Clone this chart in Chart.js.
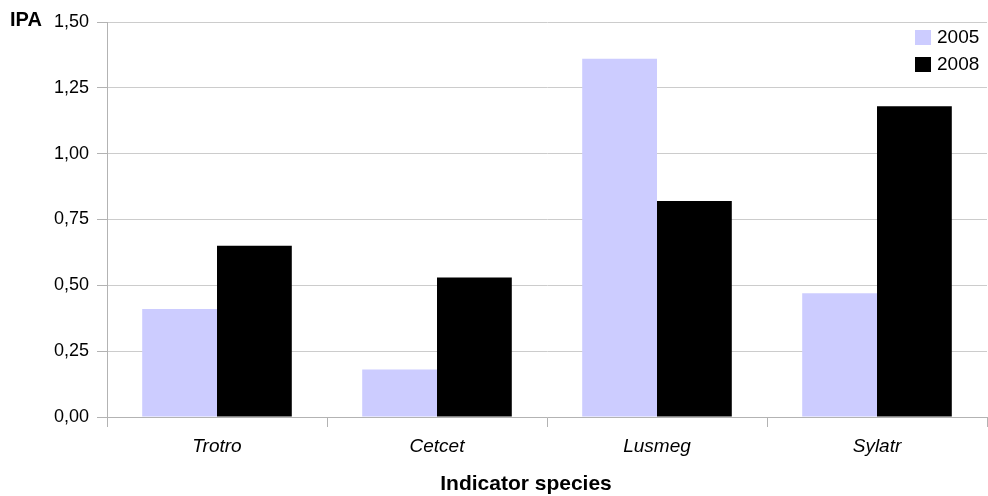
<!DOCTYPE html>
<html>
<head>
<meta charset="utf-8">
<script src="https://cdn.jsdelivr.net/npm/chart.js@4/dist/chart.umd.min.js"></script>
<style>
  html, body { margin: 0; padding: 0; background: #fff; }
  #wrap { width: 988px; height: 496px; position: relative; }
</style>
</head>
<body>
<div id="wrap"><canvas id="ipaChart"></canvas></div>
<script>
// Chart data
var species = ['Trotro', 'Cetcet', 'Lusmeg', 'Sylatr'];
var years = ['2005', '2008'];
var ipa2005 = [0.41, 0.18, 1.36, 0.47];
var ipa2008 = [0.65, 0.53, 0.82, 1.18];
var yTicks = [0, 0.25, 0.5, 0.75, 1, 1.25, 1.5];

var colors = ['#ccccff', '#000000'];
var fontFamily = '"Liberation Sans", Arial, sans-serif';

// Draws the "IPA" label, x-axis title and the legend box
var extrasPlugin = {
    id: 'extras',
    afterDraw: function(chart) {
        var ctx = chart.ctx;
        ctx.save();
        ctx.fillStyle = '#000';
        ctx.font = 'bold 20px ' + fontFamily;
        ctx.textBaseline = 'middle';
        ctx.textAlign = 'left';
        ctx.fillText('IPA', 10, 20);

        ctx.font = 'bold 21px ' + fontFamily;
        ctx.textAlign = 'center';
        ctx.fillText('Indicator species', 526, 484);

        // legend
        ctx.font = '19px ' + fontFamily;
        ctx.textAlign = 'left';
        chart.data.datasets.forEach(function(ds, i) {
            var y = 37 + i * 27;
            ctx.fillStyle = ds.backgroundColor;
            ctx.fillRect(915, y - 7, 16, 15);
            ctx.fillStyle = '#000';
            ctx.fillText(ds.label, 937, y + 1);
        });
        ctx.restore();
    }
};

document.addEventListener('DOMContentLoaded', function() {
    var ctx = document.getElementById('ipaChart').getContext('2d');

    new Chart(ctx, {
        type: 'bar',
        data: {
            labels: species,
            datasets: [{
                label: years[0],
                data: ipa2005,
                backgroundColor: colors[0],
                borderWidth: 0
            }, {
                label: years[1],
                data: ipa2008,
                backgroundColor: colors[1],
                borderWidth: 0
            }]
        },
        options: {
            responsive: true,
            maintainAspectRatio: false,
            animation: false,
            devicePixelRatio: 1,
            layout: {
                padding: { top: 22, right: 1, left: 0, bottom: 0 }
            },
            datasets: {
                bar: { categoryPercentage: 0.68, barPercentage: 1 }
            },
            plugins: {
                legend: { display: false },
                tooltip: { enabled: false }
            },
            scales: {
                x: {
                    afterFit: function(scale) { scale.height = 79; },
                    grid: {
                        offset: true,
                        drawOnChartArea: false,
                        drawTicks: true,
                        tickLength: 10,
                        color: '#b3b3b3'
                    },
                    border: { color: '#b3b3b3' },
                    ticks: {
                        color: '#000',
                        padding: 8,
                        font: { family: fontFamily, size: 19, style: 'italic' }
                    }
                },
                y: {
                    min: 0,
                    max: 1.5,
                    afterFit: function(scale) { scale.width = 107; },
                    afterBuildTicks: function(scale) {
                        scale.ticks = yTicks.map(function(v) { return { value: v }; });
                    },
                    grid: {
                        color: '#cccccc',
                        tickLength: 10,
                        tickColor: '#b3b3b3'
                    },
                    border: { color: '#b3b3b3' },
                    ticks: {
                        color: '#000',
                        padding: 8,
                        font: { family: fontFamily, size: 18 },
                        callback: function(v) { return v.toFixed(2).replace('.', ','); }
                    }
                }
            }
        },
        plugins: [extrasPlugin]
    });
});
</script>
</body>
</html>
